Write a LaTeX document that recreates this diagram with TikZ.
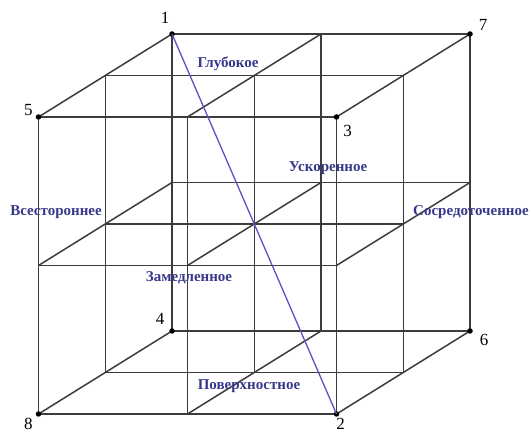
\documentclass[tikz,border=0pt]{standalone}
\usepackage{fontspec}
\setmainfont{Liberation Serif}
\begin{document}
\begin{tikzpicture}[
  x={(298pt,0pt)}, y={(0pt,297pt)}, z={(133.5pt,83pt)},
  grid/.style={draw={rgb,255:red,60;green,60;blue,60}, line width=1.5pt},
  diag/.style={line width=1.3pt, draw={rgb,255:red,85;green,85;blue,195}},
  dot/.style={circle, fill=black, inner sep=0pt, minimum size=5.5pt},
  num/.style={font=\fontsize{17}{17}\selectfont, text=black},
  lab/.style={font=\bfseries\fontsize{15}{16}\selectfont, text={rgb,255:red,55;green,55;blue,140}}
]
% bounding box in image pixel units (1px = 1pt), origin at corner 8
\useasboundingbox ([shift={(-38.5pt,-19pt)}]0,0,0) rectangle ([shift={(493.5pt,414pt)}]0,0,0);
% lattice lines
\foreach \a in {0,0.5,1}{
  \foreach \b in {0,0.5,1}{
    \draw[grid] (0,\a,\b) -- (1,\a,\b);
    \draw[grid] (\a,0,\b) -- (\a,1,\b);
    \draw[grid] (\a,\b,0) -- (\a,\b,1);
  }
}
% corners
\node[dot] (c1) at (0,1,1) {};
\node[dot] (c2) at (1,0,0) {};
\node[dot] (c3) at (1,1,0) {};
\node[dot] (c4) at (0,0,1) {};
\node[dot] (c5) at (0,1,0) {};
\node[dot] (c6) at (1,0,1) {};
\node[dot] (c7) at (1,1,1) {};
\node[dot] (c8) at (0,0,0) {};
% diagonal
\draw[diag] (c1.center) -- (c2.center);
% numbers
\node[num] (n1) at ([shift={(-7pt,16pt)}]c1) {1};
\node[num] (n5) at ([shift={(-10pt,7pt)}]c5) {5};
\node[num] (n7) at ([shift={(13pt,9pt)}]c7) {7};
\node[num] (n3) at ([shift={(11pt,-14pt)}]c3) {3};
\node[num] (n4) at ([shift={(-12pt,12pt)}]c4) {4};
\node[num] (n6) at ([shift={(14pt,-9pt)}]c6) {6};
\node[num] (n8) at ([shift={(-10pt,-10pt)}]c8) {8};
\node[num] (n2) at ([shift={(4pt,-9.5pt)}]c2) {2};
% labels (image pixel positions relative to corner 8 at (38.5,414))
\node[lab] (l1) at ([shift={(189.5pt,350pt)}]c8) {Глубокое};
\node[lab] (l2) at ([shift={(289.5pt,246pt)}]c8) {Ускоренное};
\node[lab] (l3) at ([shift={(17.5pt,202pt)}]c8) {Всестороннее};
\node[lab] (l4) at ([shift={(432.5pt,202pt)}]c8) {Сосредоточенное};
\node[lab] (l5) at ([shift={(150.5pt,136pt)}]c8) {Замедленное};
\node[lab] (l6) at ([shift={(210.5pt,28pt)}]c8) {Поверхностное};
\end{tikzpicture}
\end{document}
